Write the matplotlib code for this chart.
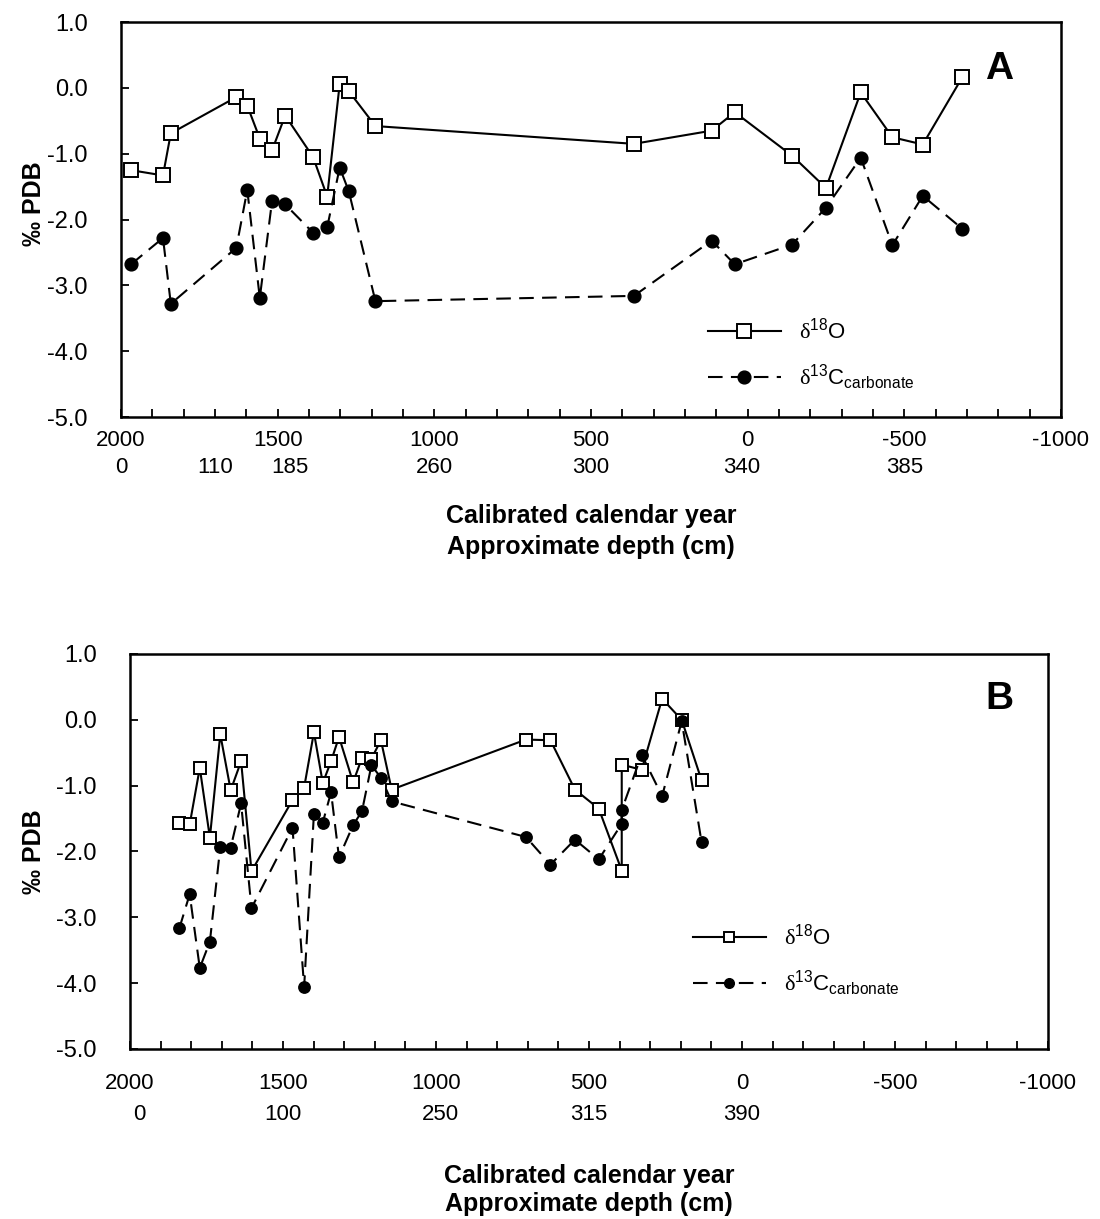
import numpy as np
import matplotlib
matplotlib.use('Agg')
import matplotlib.pyplot as plt
from matplotlib import font_manager
from matplotlib.ticker import MultipleLocator, FormatStrFormatter

plt.rcParams['font.family'] = ['Liberation Sans', 'DejaVu Sans']
plt.rcParams['mathtext.fontset'] = 'custom'
plt.rcParams['mathtext.rm'] = 'Liberation Serif'
plt.rcParams['mathtext.sf'] = 'Liberation Sans'

# condensed face for the year / depth labels, if there is one
names = {f.name for f in font_manager.fontManager.ttflist}
narrow = 'Liberation Sans Narrow' if 'Liberation Sans Narrow' in names else 'Liberation Sans'

# ---- panel A data (calibrated year, per mil PDB)
year_a = [1968, 1866, 1841, 1632, 1597, 1557, 1518, 1476, 1387, 1342, 1302,
          1273, 1188, 363, 115, 41, -142, -250, -361, -462, -559, -685]
d18o_a = [-1.25, -1.33, -0.69, -0.14, -0.27, -0.77, -0.95, -0.42, -1.05, -1.65,
          0.06, -0.05, -0.58, -0.85, -0.65, -0.37, -1.03, -1.52, -0.07, -0.75,
          -0.86, 0.16]
d13c_a = [-2.68, -2.28, -3.28, -2.43, -1.55, -3.19, -1.72, -1.77, -2.20, -2.12,
          -1.21, -1.57, -3.24, -3.16, -2.32, -2.68, -2.38, -1.82, -1.06, -2.39,
          -1.64, -2.14]

# ---- panel B data
year_b = [1839, 1805, 1772, 1739, 1705, 1671, 1637, 1603, 1469, 1431, 1399,
          1370, 1343, 1317, 1271, 1242, 1211, 1180, 1145, 706, 626, 546, 468,
          393, 393, 328, 261, 197, 132]
d18o_b = [-1.56, -1.59, -0.73, -1.79, -0.22, -1.07, -0.63, -2.30, -1.22, -1.03,
          -0.19, -0.96, -0.63, -0.26, -0.95, -0.58, -0.59, -0.31, -1.06, -0.30,
          -0.31, -1.06, -1.35, -2.29, -0.68, -0.76, 0.32, 0.00, -0.92]
d13c_b = [-3.17, -2.65, -3.77, -3.37, -1.93, -1.94, -1.27, -2.86, -1.64, -4.06,
          -1.43, -1.56, -1.10, -2.09, -1.60, -1.39, -0.69, -0.88, -1.24, -1.78,
          -2.20, -1.82, -2.12, -1.58, -1.37, -0.53, -1.16, -0.02, -1.86]

# ---- axis labels
year_ticks = [2000, 1500, 1000, 500, 0, -500, -1000]
year_labels = ['2000', '1500', '1000', '500', '0', '-500', '-1000']
depth_pos_a = [2000, 1700, 1460, 1000, 500, 20, -500]
depth_lab_a = ['0', '110', '185', '260', '300', '340', '385']
depth_pos_b = [1970, 1500, 985, 500, 0]
depth_lab_b = ['0', '100', '250', '315', '390']

lab_o = r'$\mathrm{\delta}^{\mathsf{18}}\mathsf{O}$'
lab_c = r'$\mathrm{\delta}^{\mathsf{13}}\mathsf{C}_{\mathsf{carbonate}}$'

fig = plt.figure(figsize=(11, 12.19), dpi=100)
ax_a = fig.add_axes([0.110, 0.6579, 0.8545, 0.324])
ax_b = fig.add_axes([0.1182, 0.1395, 0.8345, 0.324])


def draw_panel(ax, yrs, o, c, ms_s, ms_c):
    ax.plot(yrs, o, '-', color='black', lw=1.5, marker='s', ms=ms_s,
            mfc='white', mec='black', mew=1.4, label=lab_o, zorder=3)
    ax.plot(yrs, c, '--', color='black', lw=1.5, dashes=(7, 4), marker='o',
            ms=ms_c, mfc='black', mec='black', label=lab_c, zorder=3)
    ax.set_xlim(2000, -1000)
    ax.set_ylim(-5, 1)
    ax.xaxis.set_major_locator(MultipleLocator(100))
    ax.yaxis.set_major_locator(MultipleLocator(1))
    ax.yaxis.set_major_formatter(FormatStrFormatter('%.1f'))
    ax.tick_params(axis='both', direction='in', length=6, width=1.3,
                   labelsize=17, pad=24)
    ax.tick_params(axis='x', labelbottom=False)
    for s in ax.spines.values():
        s.set_linewidth(1.8)
    ax.set_ylabel('‰ PDB', fontsize=18, fontweight='bold')


def add_xlabels(ax, dpos, dlab, y1, y2, t1, t2):
    tr = ax.get_xaxis_transform()
    for x, t in zip(year_ticks, year_labels):
        ax.text(x, y1, t, transform=tr, ha='center', va='center',
                fontsize=16, family=narrow)
    for x, t in zip(dpos, dlab):
        ax.text(x, y2, t, transform=tr, ha='center', va='center',
                fontsize=16, family=narrow)
    bb = ax.get_position()
    xc = (bb.x0 + bb.x1) / 2
    fig.text(xc, t1, 'Calibrated calendar year', ha='center', va='center',
             fontsize=18, fontweight='bold', family=narrow)
    fig.text(xc, t2, 'Approximate depth (cm)', ha='center', va='center',
             fontsize=18, fontweight='bold', family=narrow)


draw_panel(ax_a, year_a, d18o_a, d13c_a, 9.6, 9.2)
draw_panel(ax_b, year_b, d18o_b, d13c_b, 8.8, 8.2)

ax_a.yaxis.set_label_coords(-0.080, 0.54)
ax_b.yaxis.set_label_coords(-0.092, 0.5)

add_xlabels(ax_a, depth_pos_a, depth_lab_a, -0.060, -0.128, 0.5765, 0.5512)
add_xlabels(ax_b, depth_pos_b, depth_lab_b, -0.088, -0.165, 0.0355, 0.0125)

ax_a.text(0.934, 0.88, 'A', transform=ax_a.transAxes, fontsize=28,
          fontweight='bold', ha='center', va='center')
ax_b.text(0.947, 0.886, 'B', transform=ax_b.transAxes, fontsize=28,
          fontweight='bold', ha='center', va='center')

ax_a.legend(loc='center left', bbox_to_anchor=(0.624, 0.157), frameon=False,
            handlelength=3.3, handletextpad=0.8, labelspacing=0.85,
            borderpad=0, borderaxespad=0, fontsize=16)
ax_b.legend(loc='center left', bbox_to_anchor=(0.613, 0.223), frameon=False,
            handlelength=3.3, handletextpad=0.8, labelspacing=0.85,
            borderpad=0, borderaxespad=0, fontsize=16, markerscale=0.85)

fig.savefig('out.png', dpi=100)
